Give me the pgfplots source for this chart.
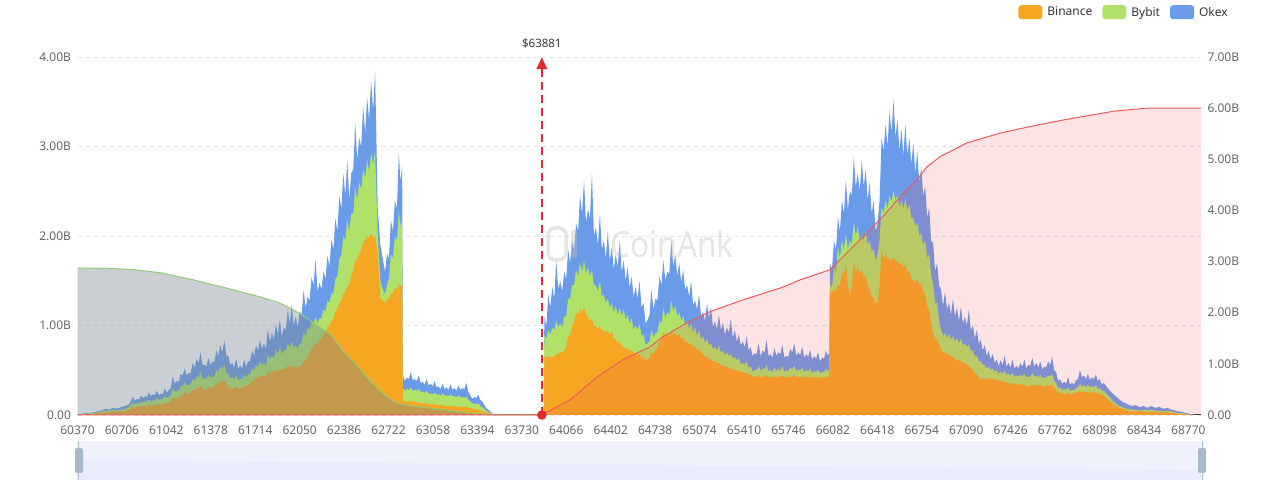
\documentclass[border=0pt]{standalone}
\usepackage{pgfplots}
\pgfplotsset{compat=1.18}
\usepackage{pgfplotstable}
\usepackage{fontspec}
\setmainfont{Noto Sans}
\usetikzlibrary{arrows.meta}
\definecolor{binance}{RGB}{245,166,35}
\definecolor{bybit}{RGB}{176,226,106}
\definecolor{okex}{RGB}{106,155,232}
\definecolor{longfill}{RGB}{120,136,142}
\definecolor{longline}{RGB}{145,204,117}
\definecolor{shortfill}{RGB}{240,80,90}
\definecolor{shortline}{RGB}{238,90,90}
\definecolor{markred}{RGB}{230,40,50}
\definecolor{axtext}{RGB}{102,102,102}
\definecolor{gridc}{RGB}{224,230,241}
\definecolor{legtext}{RGB}{51,51,51}
\definecolor{sliderbg}{RGB}{239,241,252}
\definecolor{slidershadow}{RGB}{233,236,250}
\definecolor{sliderhandle}{RGB}{167,183,204}

% liquidation levels (B): T = top of Okex, G = top of Bybit, O = top of Binance
\pgfplotstableread{
x T G O
60370 0.00 0.00 0.00
60400 0.01 0.01 0.00
60430 0.02 0.01 0.01
60460 0.02 0.02 0.01
60490 0.03 0.02 0.01
60520 0.04 0.03 0.02
60550 0.05 0.04 0.02
60580 0.07 0.05 0.03
60610 0.06 0.05 0.03
60640 0.08 0.06 0.04
60670 0.07 0.05 0.04
60700 0.09 0.06 0.04
60730 0.10 0.07 0.05
60760 0.12 0.09 0.06
60790 0.20 0.14 0.09
60805 0.16 0.12 0.08
60820 0.18 0.13 0.09
60835 0.17 0.13 0.09
60850 0.22 0.15 0.10
60865 0.19 0.14 0.10
60880 0.21 0.15 0.10
60895 0.20 0.15 0.10
60910 0.25 0.17 0.11
60925 0.21 0.15 0.11
60940 0.23 0.16 0.11
60955 0.22 0.16 0.11
60970 0.27 0.19 0.12
60985 0.22 0.17 0.12
61000 0.24 0.18 0.12
61015 0.23 0.18 0.12
61030 0.30 0.21 0.14
61045 0.25 0.19 0.13
61060 0.28 0.20 0.14
61075 0.30 0.22 0.15
61090 0.43 0.30 0.20
61105 0.35 0.26 0.18
61120 0.38 0.27 0.19
61135 0.37 0.27 0.19
61150 0.46 0.32 0.22
61165 0.44 0.32 0.22
61180 0.52 0.37 0.25
61195 0.44 0.33 0.24
61210 0.47 0.34 0.24
61225 0.46 0.34 0.25
61240 0.58 0.40 0.28
61255 0.53 0.38 0.27
61270 0.62 0.43 0.30
61285 0.58 0.42 0.30
61300 0.70 0.48 0.33
61315 0.56 0.41 0.29
61330 0.56 0.41 0.29
61345 0.54 0.40 0.29
61360 0.64 0.45 0.31
61375 0.55 0.41 0.30
61390 0.60 0.43 0.31
61405 0.59 0.43 0.32
61420 0.72 0.50 0.36
61435 0.66 0.48 0.35
61450 0.78 0.54 0.38
61465 0.70 0.51 0.37
61480 0.84 0.57 0.40
61495 0.66 0.47 0.35
61510 0.66 0.46 0.33
61525 0.56 0.41 0.30
61540 0.58 0.42 0.30
61555 0.53 0.40 0.30
61570 0.63 0.45 0.32
61585 0.52 0.39 0.29
61600 0.55 0.40 0.30
61615 0.52 0.40 0.30
61630 0.62 0.45 0.33
61645 0.54 0.42 0.32
61660 0.60 0.45 0.34
61675 0.60 0.46 0.35
61690 0.72 0.52 0.38
61705 0.66 0.50 0.38
61720 0.78 0.56 0.41
61735 0.72 0.54 0.42
61750 0.84 0.60 0.45
61765 0.74 0.56 0.43
61780 0.80 0.58 0.44
61795 0.74 0.55 0.43
61810 0.96 0.68 0.49
61825 0.82 0.62 0.47
61840 0.92 0.66 0.50
61855 0.84 0.63 0.48
61870 1.02 0.73 0.51
61885 0.90 0.68 0.49
61900 1.06 0.76 0.52
61915 0.88 0.68 0.50
61930 0.98 0.72 0.52
61945 0.95 0.72 0.52
61960 1.18 0.80 0.55
61975 1.02 0.76 0.53
61990 1.23 0.82 0.56
62005 1.00 0.75 0.53
62020 1.10 0.78 0.54
62035 0.98 0.74 0.53
62050 1.16 0.80 0.55
62065 1.12 0.80 0.56
62080 1.40 0.92 0.60
62095 1.20 0.88 0.62
62110 1.32 0.98 0.66
62125 1.28 0.95 0.68
62140 1.54 1.05 0.74
62155 1.45 1.02 0.76
62170 1.74 1.10 0.80
62185 1.38 1.02 0.80
62200 1.48 1.08 0.84
62215 1.40 1.08 0.85
62230 1.60 1.18 0.90
62245 1.52 1.15 0.92
62260 1.78 1.28 0.98
62275 1.66 1.25 1.00
62290 1.96 1.36 1.05
62305 1.85 1.36 1.08
62320 2.20 1.52 1.15
62335 2.05 1.55 1.18
62350 2.45 1.75 1.25
62365 2.30 1.78 1.28
62380 2.70 2.00 1.35
62395 2.45 1.95 1.37
62410 2.85 2.18 1.43
62425 2.40 2.05 1.46
62440 2.70 2.25 1.55
62455 2.75 2.25 1.62
62470 3.26 2.55 1.73
62485 2.85 2.40 1.74
62500 3.10 2.60 1.80
62515 3.00 2.52 1.84
62530 3.45 2.75 1.92
62545 3.15 2.65 1.95
62560 3.55 2.85 2.00
62575 3.30 2.72 1.98
62590 3.74 2.93 2.03
62605 3.40 2.80 1.98
62620 3.85 2.95 2.00
62640 2.32 2.03 1.80
62660 1.90 1.50 1.30
62680 1.73 1.40 1.28
62695 1.60 1.35 1.25
62710 1.80 1.45 1.30
62725 1.75 1.52 1.30
62740 2.18 1.80 1.35
62755 2.05 1.75 1.36
62770 2.40 2.00 1.42
62785 2.30 1.95 1.40
62800 2.93 2.29 1.47
62812 2.60 2.10 1.44
62825 2.80 2.20 1.45
62830 0.45 0.30 0.16
62845 0.38 0.27 0.15
62860 0.42 0.29 0.15
62875 0.40 0.28 0.15
62890 0.48 0.31 0.16
62905 0.39 0.27 0.15
62920 0.40 0.28 0.15
62935 0.38 0.27 0.14
62950 0.44 0.29 0.14
62965 0.36 0.26 0.13
62980 0.37 0.26 0.13
62995 0.34 0.25 0.13
63010 0.40 0.27 0.13
63025 0.33 0.24 0.12
63040 0.35 0.24 0.12
63055 0.32 0.23 0.12
63070 0.38 0.25 0.12
63085 0.31 0.23 0.11
63100 0.32 0.23 0.11
63115 0.29 0.22 0.11
63130 0.35 0.24 0.11
63145 0.29 0.22 0.10
63160 0.31 0.22 0.10
63175 0.28 0.21 0.10
63190 0.34 0.23 0.10
63205 0.28 0.21 0.10
63220 0.30 0.21 0.10
63235 0.27 0.20 0.09
63250 0.33 0.22 0.09
63265 0.28 0.20 0.09
63280 0.30 0.20 0.09
63295 0.29 0.19 0.09
63310 0.36 0.21 0.09
63325 0.26 0.17 0.08
63340 0.22 0.15 0.08
63355 0.18 0.13 0.07
63370 0.20 0.13 0.07
63385 0.19 0.12 0.06
63400 0.23 0.13 0.06
63415 0.17 0.10 0.05
63430 0.15 0.09 0.04
63460 0.08 0.05 0.03
63490 0.04 0.02 0.01
63520 0.00 0.00 0.00
63895 0.00 0.00 0.00
63900 1.10 0.90 0.65
63915 1.00 0.85 0.64
63930 1.35 0.95 0.66
63945 1.20 0.90 0.64
63960 1.43 0.98 0.65
63975 1.30 0.95 0.65
63990 1.73 1.05 0.68
64005 1.40 0.98 0.68
64020 1.50 1.02 0.70
64035 1.38 0.98 0.70
64050 1.60 1.10 0.72
64065 1.52 1.10 0.76
64080 1.85 1.30 0.88
64095 1.70 1.30 0.90
64110 1.95 1.45 1.00
64125 1.85 1.45 1.04
64140 2.14 1.62 1.14
64155 2.05 1.55 1.12
64170 2.45 1.70 1.18
64185 2.25 1.60 1.15
64200 2.62 1.73 1.20
64215 2.15 1.58 1.12
64230 2.30 1.65 1.10
64245 2.20 1.55 1.06
64260 2.70 1.62 1.07
64275 2.00 1.45 1.00
64290 2.10 1.45 0.99
64305 1.90 1.38 0.96
64320 2.25 1.50 1.00
64335 1.85 1.32 0.94
64350 1.95 1.35 0.95
64365 1.75 1.25 0.92
64380 2.05 1.30 0.94
64395 1.72 1.20 0.90
64410 1.88 1.25 0.93
64425 1.62 1.15 0.85
64440 1.80 1.22 0.85
64455 1.65 1.12 0.80
64470 1.95 1.20 0.82
64485 1.60 1.10 0.77
64500 1.73 1.18 0.76
64515 1.50 1.06 0.74
64530 1.65 1.12 0.74
64545 1.42 1.02 0.72
64560 1.55 1.08 0.72
64575 1.32 0.96 0.69
64590 1.43 1.00 0.69
64605 1.30 0.95 0.67
64620 1.50 1.02 0.68
64635 1.20 0.88 0.64
64650 1.25 0.90 0.64
64665 1.02 0.78 0.61
64680 1.06 0.80 0.62
64695 1.12 0.82 0.64
64710 1.40 0.95 0.70
64725 1.18 0.86 0.68
64740 1.30 0.92 0.72
64755 1.28 0.92 0.74
64770 1.55 1.05 0.82
64785 1.45 1.02 0.84
64800 1.73 1.20 0.93
64815 1.50 1.08 0.88
64830 1.60 1.15 0.90
64845 1.58 1.12 0.88
64860 1.96 1.28 0.93
64875 1.65 1.15 0.90
64890 1.80 1.22 0.92
64905 1.55 1.10 0.88
64920 1.70 1.15 0.90
64935 1.48 1.05 0.85
64950 1.62 1.10 0.87
64965 1.40 1.00 0.82
64980 1.45 1.05 0.82
64995 1.32 0.96 0.79
65010 1.50 1.02 0.80
65025 1.22 0.92 0.76
65040 1.28 0.98 0.76
65055 1.18 0.88 0.73
65070 1.35 0.95 0.74
65085 1.10 0.84 0.69
65100 1.15 0.88 0.68
65115 1.05 0.80 0.65
65130 1.25 0.85 0.65
65145 1.08 0.78 0.62
65160 1.21 0.80 0.62
65175 0.98 0.74 0.60
65190 1.05 0.76 0.60
65205 0.96 0.72 0.58
65220 1.12 0.78 0.58
65235 0.95 0.70 0.56
65250 1.03 0.72 0.55
65265 0.90 0.67 0.54
65280 0.98 0.70 0.54
65295 0.92 0.66 0.52
65310 1.08 0.68 0.52
65325 0.86 0.63 0.50
65340 0.95 0.65 0.50
65355 0.82 0.61 0.49
65370 0.90 0.64 0.50
65385 0.78 0.57 0.48
65400 0.82 0.58 0.48
65415 0.76 0.56 0.47
65430 0.88 0.60 0.47
65445 0.72 0.53 0.45
65460 0.76 0.54 0.45
65475 0.66 0.49 0.43
65490 0.69 0.50 0.43
65505 0.68 0.50 0.43
65520 0.80 0.55 0.44
65535 0.66 0.49 0.42
65550 0.72 0.52 0.43
65565 0.70 0.51 0.43
65580 0.84 0.56 0.44
65595 0.66 0.49 0.42
65610 0.68 0.50 0.42
65625 0.64 0.48 0.42
65640 0.75 0.53 0.43
65655 0.66 0.49 0.42
65670 0.70 0.51 0.43
65685 0.68 0.50 0.43
65700 0.78 0.55 0.44
65715 0.64 0.48 0.42
65730 0.66 0.50 0.42
65745 0.65 0.49 0.42
65760 0.74 0.53 0.43
65775 0.70 0.51 0.43
65790 0.80 0.55 0.44
65805 0.66 0.49 0.42
65820 0.70 0.51 0.43
65835 0.67 0.50 0.42
65850 0.76 0.53 0.43
65865 0.64 0.48 0.42
65880 0.68 0.50 0.42
65895 0.65 0.49 0.42
65910 0.73 0.52 0.43
65925 0.62 0.47 0.41
65940 0.66 0.49 0.42
65955 0.63 0.48 0.42
65970 0.70 0.51 0.43
65985 0.60 0.47 0.41
66000 0.64 0.48 0.42
66015 0.63 0.48 0.42
66030 0.72 0.52 0.43
66042 0.66 0.49 0.42
66055 0.70 0.51 0.43
66060 1.70 1.47 1.40
66075 1.62 1.42 1.36
66090 1.95 1.65 1.40
66105 1.85 1.60 1.38
66120 2.21 1.88 1.45
66135 2.05 1.75 1.45
66150 2.40 1.95 1.60
66165 2.25 1.85 1.55
66180 2.62 2.03 1.70
66195 2.30 1.85 1.45
66210 2.50 1.95 1.33
66225 2.45 1.90 1.45
66240 2.88 2.16 1.70
66255 2.55 2.00 1.60
66270 2.70 2.10 1.65
66285 2.50 1.95 1.58
66300 2.85 2.00 1.62
66315 2.55 1.95 1.55
66330 2.75 2.05 1.55
66345 2.40 1.90 1.45
66360 2.60 1.95 1.40
66375 2.25 1.82 1.32
66390 2.40 1.85 1.30
66405 2.05 1.72 1.25
66420 2.14 1.80 1.26
66435 2.40 1.95 1.45
66450 3.10 2.32 1.84
66465 2.95 2.25 1.75
66480 3.25 2.40 1.80
66495 3.00 2.30 1.74
66510 3.40 2.45 1.75
66525 3.15 2.38 1.72
66540 3.52 2.51 1.77
66555 3.10 2.40 1.72
66570 3.30 2.45 1.72
66585 2.95 2.32 1.68
66600 3.20 2.40 1.70
66615 2.90 2.30 1.65
66630 3.25 2.42 1.67
66645 2.90 2.28 1.60
66660 3.10 2.35 1.60
66675 2.80 2.20 1.52
66690 3.04 2.20 1.50
66705 2.70 2.10 1.48
66720 2.95 2.15 1.52
66735 2.60 2.00 1.46
66750 2.77 2.03 1.47
66765 2.45 1.90 1.38
66780 2.55 1.95 1.35
66795 2.20 1.75 1.22
66810 2.32 1.80 1.17
66825 1.95 1.55 1.02
66840 1.92 1.47 0.92
66855 1.60 1.25 0.85
66870 1.70 1.25 0.85
66885 1.45 1.05 0.78
66900 1.40 0.95 0.73
66915 1.22 0.88 0.70
66930 1.38 0.92 0.70
66945 1.18 0.86 0.68
66960 1.25 0.90 0.68
66975 1.12 0.84 0.65
66990 1.30 0.88 0.65
67005 1.10 0.82 0.62
67020 1.20 0.86 0.62
67035 1.05 0.80 0.60
67050 1.21 0.85 0.61
67065 1.02 0.78 0.58
67080 1.10 0.80 0.58
67095 1.00 0.76 0.56
67110 1.18 0.79 0.55
67125 0.95 0.72 0.52
67140 1.00 0.72 0.50
67155 0.86 0.66 0.47
67170 0.95 0.66 0.45
67185 0.80 0.60 0.42
67200 0.84 0.60 0.40
67215 0.72 0.56 0.40
67230 0.78 0.56 0.41
67245 0.66 0.52 0.40
67260 0.72 0.54 0.42
67275 0.62 0.50 0.40
67290 0.68 0.52 0.41
67305 0.58 0.48 0.39
67320 0.62 0.50 0.40
67335 0.55 0.46 0.38
67350 0.61 0.48 0.38
67365 0.56 0.46 0.37
67380 0.66 0.49 0.37
67395 0.54 0.45 0.36
67410 0.58 0.46 0.36
67425 0.53 0.44 0.35
67440 0.62 0.47 0.36
67455 0.52 0.43 0.34
67470 0.55 0.44 0.34
67485 0.52 0.43 0.34
67500 0.58 0.45 0.35
67515 0.54 0.43 0.34
67530 0.62 0.46 0.34
67545 0.52 0.42 0.32
67560 0.56 0.43 0.32
67575 0.55 0.43 0.33
67590 0.64 0.47 0.34
67605 0.54 0.43 0.33
67620 0.58 0.44 0.33
67635 0.53 0.42 0.33
67650 0.60 0.45 0.34
67665 0.51 0.41 0.32
67680 0.54 0.42 0.32
67695 0.53 0.42 0.32
67710 0.60 0.44 0.33
67725 0.56 0.43 0.33
67740 0.65 0.46 0.34
67755 0.50 0.38 0.30
67770 0.48 0.36 0.28
67785 0.38 0.30 0.25
67800 0.40 0.31 0.25
67815 0.35 0.28 0.24
67830 0.37 0.29 0.24
67845 0.35 0.28 0.24
67860 0.42 0.31 0.25
67875 0.34 0.27 0.23
67890 0.36 0.28 0.23
67905 0.34 0.28 0.24
67920 0.39 0.30 0.25
67935 0.40 0.31 0.25
67950 0.50 0.35 0.27
67965 0.42 0.32 0.26
67980 0.44 0.33 0.26
67995 0.40 0.31 0.25
68010 0.46 0.34 0.26
68025 0.39 0.31 0.25
68040 0.42 0.32 0.25
68055 0.40 0.31 0.25
68070 0.45 0.33 0.26
68085 0.38 0.29 0.24
68100 0.40 0.30 0.24
68115 0.34 0.27 0.22
68130 0.36 0.27 0.22
68160 0.30 0.22 0.18
68190 0.25 0.17 0.13
68220 0.21 0.13 0.10
68250 0.17 0.10 0.08
68280 0.14 0.08 0.06
68310 0.12 0.07 0.05
68340 0.10 0.06 0.04
68370 0.11 0.06 0.04
68400 0.09 0.05 0.04
68430 0.10 0.06 0.04
68460 0.08 0.05 0.03
68490 0.10 0.06 0.04
68520 0.08 0.05 0.03
68550 0.09 0.05 0.03
68580 0.07 0.04 0.03
68610 0.08 0.05 0.03
68640 0.06 0.04 0.02
68670 0.05 0.03 0.02
68700 0.04 0.02 0.01
68730 0.03 0.02 0.01
68760 0.02 0.01 0.01
68790 0.01 0.00 0.00
68820 0.00 0.00 0.00
}\bars

% cumulative long liquidations (right axis, B)
\pgfplotstableread{
x y
60370 2.87
60600 2.87
60800 2.84
61000 2.78
61250 2.64
61500 2.48
61750 2.31
61900 2.19
62000 2.06
62100 1.90
62200 1.72
62280 1.58
62380 1.25
62450 1.05
62520 0.86
62600 0.62
62680 0.42
62760 0.27
62830 0.20
62950 0.16
63050 0.13
63200 0.08
63350 0.04
63511 0.00
63881 0.00
}\longcum

% cumulative short liquidations (right axis, B)
\pgfplotstableread{
x y
60370 0.00
63881 0.00
64093 0.29
64297 0.74
64494 1.08
64698 1.33
64797 1.53
64978 1.80
65152 2.02
65401 2.25
65704 2.50
65832 2.64
66059 2.84
66211 3.23
66339 3.56
66460 3.88
66588 4.26
66717 4.60
66792 4.85
66891 5.05
67095 5.32
67344 5.51
67571 5.64
67827 5.77
68205 5.94
68455 6.00
68865 6.00
}\shortcum

\begin{document}
\begin{tikzpicture}
\useasboundingbox (0pt,0pt) rectangle (1280pt,484pt);
\begin{axis}[
  at={(77.5pt,69pt)}, anchor=south west,
  scale only axis, width=1123.5pt, height=358pt,
  xmin=60370, xmax=68865, ymin=0, ymax=4,
  clip=false,
  axis x line*=bottom, axis y line*=left,
  y axis line style={draw=none},
  x axis line style={draw=black!80, line width=1pt},
  major tick length=0pt,
  xtick={60370,60706,61042,61378,61714,62050,62386,62722,63058,63394,63730,64066,64402,64738,65074,65410,65746,66082,66418,66754,67090,67426,67762,68098,68434,68770},
  xticklabels={60370,60706,61042,61378,61714,62050,62386,62722,63058,63394,63730,64066,64402,64738,65074,65410,65746,66082,66418,66754,67090,67426,67762,68098,68434,68770},
  ytick={0,1,2,3,4},
  yticklabels={0.00,1.00B,2.00B,3.00B,4.00B},
  ymajorgrids,
  grid style={gridc, dash pattern=on 4pt off 4pt, line width=0.8pt},
  tick label style={font=\fontsize{12}{14}\selectfont, text=axtext},
  xticklabel style={yshift=-7pt},
  yticklabel style={xshift=-3pt},
  legend columns=-1,
  legend image code/.code={\path[#1, draw=none, rounded corners=3pt] (0pt,-7pt) rectangle (24pt,7pt);},
  legend style={at={(axis description cs:1.024,1.125)}, anchor=east,
    draw=none, fill=none, inner sep=0pt,
    font=\fontsize{12}{14}\selectfont, text=legtext,
    nodes={inner sep=0pt},
    /tikz/every odd column/.append style={column sep=5pt},
    /tikz/every even column/.append style={column sep=10pt}},
]
\addplot[fill=okex, draw=none, sharp plot, forget plot] table[x=x, y=T] {\bars} \closedcycle;
\addplot[fill=bybit, draw=none, sharp plot, forget plot] table[x=x, y=G] {\bars} \closedcycle;
\addplot[fill=binance, draw=none, sharp plot, forget plot] table[x=x, y=O] {\bars} \closedcycle;
\addlegendimage{fill=binance, draw=none}
\addlegendentry{Binance}
\addlegendimage{fill=bybit, draw=none}
\addlegendentry{Bybit}
\addlegendimage{fill=okex, draw=none}
\addlegendentry{Okex}
\end{axis}

\begin{axis}[
  at={(77.5pt,69pt)}, anchor=south west,
  scale only axis, width=1123.5pt, height=358pt,
  xmin=60370, xmax=68865, ymin=0, ymax=7,
  clip=false,
  axis x line=none, axis y line*=right,
  y axis line style={draw=none},
  major tick length=0pt,
  ytick={0,1,2,3,4,5,6,7},
  yticklabels={0.00,1.00B,2.00B,3.00B,4.00B,5.00B,6.00B,7.00B},
  tick label style={font=\fontsize{12}{14}\selectfont, text=axtext},
  yticklabel style={xshift=3pt},
]
\addplot[fill=longfill, fill opacity=0.4, draw=none] table[x=x, y=y] {\longcum} \closedcycle;
\addplot[longline, line width=1pt] table[x=x, y=y] {\longcum};
\addplot[fill=shortfill, fill opacity=0.16, draw=none] table[x=x, y=y] {\shortcum} \closedcycle;
\addplot[shortline, line width=1pt] table[x=x, y=y] {\shortcum};
\addplot[markred, line width=2.5pt, dash pattern=on 8pt off 5pt,
  -{Triangle[length=12pt, width=10pt]}] coordinates {(63881,0) (63881,7)}
  node[pos=1, anchor=base, yshift=10pt, inner sep=0pt, text=legtext,
       font=\fontsize{11.5}{13}\selectfont] {\$63881};
\addplot[only marks, mark=*, mark size=4.5pt, markred] coordinates {(63881,0)};
\end{axis}

% watermark
\node[text=black!25, opacity=0.4, font=\fontsize{36}{40}\selectfont, xscale=0.88]
  at (672pt,240pt) {CoinAnk};
\draw[black!25, opacity=0.4, line width=3.5pt, rounded corners=7pt]
  (548pt,224pt) rectangle (566pt,256pt);
\fill[black!25, opacity=0.4, rounded corners=2pt] (571pt,226pt) rectangle (577pt,254pt);

% data zoom slider
\fill[sliderbg] (77pt,4pt) rectangle (1201pt,43pt);
\fill[slidershadow] (77pt,4pt) -- (77pt,24pt) -- (1201pt,14pt) -- (1201pt,4pt) -- cycle;
\draw[sliderhandle, line width=0.8pt] (78.5pt,4pt) -- (78.5pt,43pt);
\draw[sliderhandle, line width=0.8pt] (1202pt,4pt) -- (1202pt,43pt);
\fill[sliderhandle, rounded corners=2pt] (75pt,11pt) rectangle (83pt,36pt);
\fill[sliderhandle, rounded corners=2pt] (1198pt,11pt) rectangle (1206pt,36pt);
\end{tikzpicture}
\end{document}
